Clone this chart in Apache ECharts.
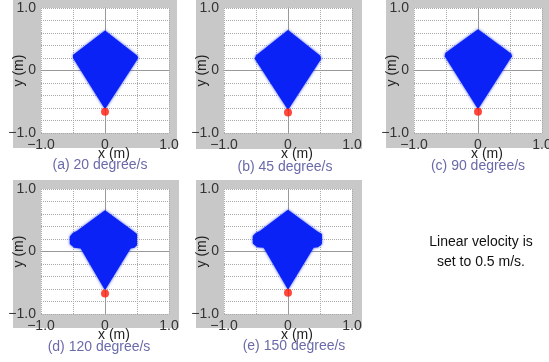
<!DOCTYPE html>
<html>
<head>
<meta charset="utf-8">
<title>Reachable region</title>
<script src="https://cdn.jsdelivr.net/npm/echarts@6/dist/echarts.min.js"></script>
<style>
  html, body { margin: 0; padding: 0; background: #fff; }
  #chart { width: 549px; height: 362px; }
</style>
</head>
<body>
<div id="chart"></div>
<script>
// captions under each panel
var captions = ['(a) 20 degree/s', '(b) 45 degree/s', '(c) 90 degree/s', '(d) 120 degree/s', '(e) 150 degree/s'];

// tick values / texts shown on both axes
var tickValues = [-1, 0, 1];
var tickTexts = ['\u22121.0', '0', '1.0'];

// outline of the blue region in each panel (x, y in m)
var shapeA = [[0, 0.64], [0.5, 0.24], [0.52, 0.2], [0, -0.62], [-0.5, 0.2], [-0.5, 0.25]];
var shapeB = [[0, 0.65], [0.5, 0.24], [0.52, 0.19], [0, -0.63], [-0.52, 0.19], [-0.5, 0.24]];
var shapeC = [[0, 0.66], [0.52, 0.27], [0.53, 0.23], [0, -0.62], [-0.52, 0.23], [-0.51, 0.28]];
var shapeD = [[0, 0.66], [0.44, 0.33], [0.5, 0.28], [0.5, 0.1], [0.46, 0.06], [0.4, 0.05], [0, -0.62],
              [-0.38, 0.05], [-0.48, 0.06], [-0.55, 0.12], [-0.55, 0.24], [-0.5, 0.3], [-0.44, 0.33]];
var shapeE = [[0, 0.67], [0.45, 0.33], [0.53, 0.28], [0.53, 0.12], [0.47, 0.07], [0.4, 0.06], [0, -0.61],
              [-0.38, 0.06], [-0.48, 0.07], [-0.55, 0.13], [-0.55, 0.25], [-0.5, 0.3], [-0.44, 0.33]];

// robot position (red dot)
var robotA = [[0, -0.66]];
var robotB = [[0, -0.67]];
var robotC = [[0, -0.66]];
var robotD = [[0, -0.67]];
var robotE = [[0, -0.66]];

var shapes = [shapeA, shapeB, shapeC, shapeD, shapeE];
var robots = [robotA, robotB, robotC, robotD, robotE];

// panel layout (plot area + grey frame + caption)
var plots = [
  {left: 41, top: 8, frame: [13, 0, 164, 148], cap: [100, 165]},
  {left: 224, top: 8, frame: [196, 0, 166, 149], cap: [285, 167]},
  {left: 414, top: 8, frame: [386, 0, 163, 148], cap: [478, 166]},
  {left: 41, top: 189, frame: [13, 180, 166, 148], cap: [99, 347]},
  {left: 224, top: 189, frame: [196, 180, 166, 148], cap: [294, 346]}
];

var FONT = 'Liberation Sans, Arial, sans-serif';
var BLUE = '#0a22f5';

function tickText(v) {
  for (var i = 0; i < tickValues.length; i++) {
    if (Math.abs(v - tickValues[i]) < 1e-6) return tickTexts[i];
  }
  return '';
}

var grids = [], xAxes = [], yAxes = [], series = [], graphics = [];

plots.forEach(function (p, i) {
  grids.push({
    left: p.left, top: p.top, width: 128, height: 125,
    show: true, backgroundColor: '#fff', borderWidth: 0,
    containLabel: false, outerBoundsMode: 'none'
  });
  xAxes.push({
    gridIndex: i, type: 'value', min: -1, max: 1, interval: 0.5,
    name: 'x (m)', nameLocation: 'middle', nameGap: 14, nameMoveOverlap: false,
    nameTextStyle: {fontFamily: FONT, fontSize: 14, color: '#222', padding: [0, 0, 0, 18]},
    axisLine: {show: true, lineStyle: {color: '#999'}},
    axisTick: {show: false},
    axisLabel: {fontFamily: FONT, fontSize: 14, color: '#333', margin: 5, formatter: tickText},
    splitLine: {show: true, lineStyle: {color: '#aaa', type: 'dotted'}}
  });
  yAxes.push({
    gridIndex: i, type: 'value', min: -1, max: 1, interval: 0.2,
    name: 'y (m)', nameLocation: 'middle', nameGap: 15, nameRotate: 90, nameMoveOverlap: false,
    nameTextStyle: {fontFamily: FONT, fontSize: 14, color: '#222'},
    axisLine: {show: true, lineStyle: {color: '#999'}},
    axisTick: {show: false},
    axisLabel: {fontFamily: FONT, fontSize: 14, color: '#333', margin: 5, formatter: tickText},
    splitLine: {show: true, lineStyle: {color: '#aaa', type: 'dotted'}}
  });
  series.push({
    type: 'custom', xAxisIndex: i, yAxisIndex: i,
    data: [[0, 0]],
    renderItem: (function (shape) {
      return function (params, api) {
        return {
          type: 'polygon',
          shape: {points: shape.map(function (pt) { return api.coord(pt); })},
          style: {fill: BLUE, shadowBlur: 3, shadowColor: 'rgba(10,34,245,0.8)'}
        };
      };
    })(shapes[i]),
    silent: true, z: 3
  });
  series.push({
    type: 'scatter', xAxisIndex: i, yAxisIndex: i,
    data: robots[i], symbolSize: 8,
    itemStyle: {color: '#ff1a0a'}, z: 4, silent: true
  });
  graphics.push({
    type: 'rect', z: -10, silent: true,
    shape: {x: p.frame[0], y: p.frame[1], width: p.frame[2], height: p.frame[3]},
    style: {fill: '#c8c8c8'}
  });
  graphics.push({
    type: 'text', x: p.cap[0], y: p.cap[1], silent: true,
    style: {text: captions[i], fill: '#6a6aaa', font: '14px ' + FONT, align: 'center', verticalAlign: 'middle'}
  });
});

graphics.push({
  type: 'text', x: 481, y: 252, silent: true,
  style: {
    text: 'Linear velocity is\nset to 0.5 m/s.', fill: '#111', font: '14px ' + FONT,
    align: 'center', verticalAlign: 'middle', lineHeight: 20
  }
});

var myChart = echarts.init(document.getElementById('chart'));
myChart.setOption({
  animation: false,
  grid: grids,
  xAxis: xAxes,
  yAxis: yAxes,
  series: series,
  graphic: graphics
});
</script>
</body>
</html>
